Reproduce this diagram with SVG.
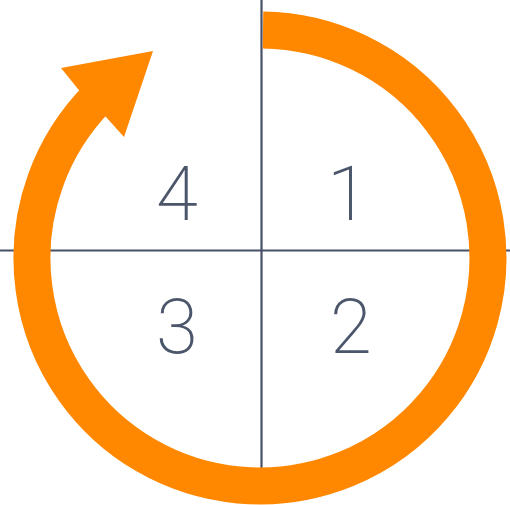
<svg xmlns="http://www.w3.org/2000/svg" width="510" height="505" viewBox="0 0 510 505">
<style>
.axis{stroke:#465066;stroke-width:2.2;fill:none}
.ring{stroke:#FF8800;stroke-width:37;fill:none;stroke-linecap:butt}
.head{fill:#FF8800}
.num{font-family:Roboto,Lato,"Open Sans","Liberation Sans",sans-serif;font-weight:200;font-size:76px;fill:#4c566b;text-anchor:middle}
</style>
<rect width="510" height="505" fill="#ffffff"/>
<g id="axes">
<line class="axis" x1="0" y1="250.5" x2="510" y2="250.5"/>
<line class="axis" x1="261.5" y1="0" x2="261.5" y2="472"/>
</g>
<g id="connectors">
<path class="ring" d="M263,30 A228,228 0 1 1 97.9,97.6"/>
<polygon class="head" points="78,89 61,68 153,51 124,137 106,117"/>
</g>
<g id="q1"><text class="num" x="348" y="220">1</text></g>
<g id="q2"><text class="num" x="351" y="353">2</text></g>
<g id="q3"><text class="num" x="177" y="353">3</text></g>
<g id="q4"><text class="num" x="177" y="220">4</text></g>
</svg>
